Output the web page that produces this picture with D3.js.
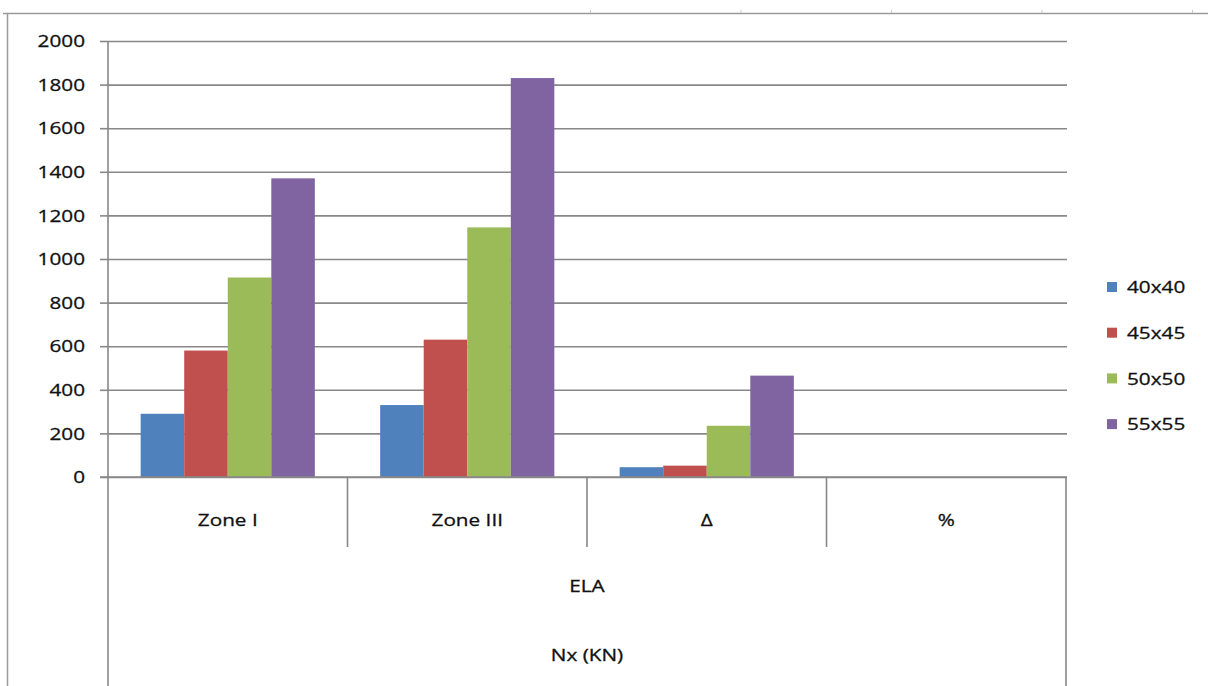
<!DOCTYPE html>
<html><head><meta charset="utf-8">
<script src="https://cdn.jsdelivr.net/npm/d3@7"></script>
<style>
html,body{margin:0;padding:0;background:#fff;}
svg{display:block;}
text{font-family:"Open Sans",sans-serif;fill:#111;stroke:#111;stroke-width:0.3px;}
</style></head>
<body>
<script>
const categories = ["Zone I", "Zone III", "Δ", "%"];
const series = ["40x40", "45x45", "50x50", "55x55"];
const values = {
  "40x40": [290, 330, 45, null],
  "45x45": [580, 630, 52, null],
  "50x50": [915, 1145, 235, null],
  "55x55": [1370, 1830, 465, null]
};
const colors = ["#4F81BD", "#C0504D", "#9BBB59", "#8064A2"];
const yTicks = [0, 200, 400, 600, 800, 1000, 1200, 1400, 1600, 1800, 2000];
const groupLabel = "ELA";
const axisTitle = "Nx (KN)";

(function () {
const W = 1208, H = 686;
const pLeft = 108, pRight = 1066, pTop = 41, pBottom = 477;
const FS = 17, SX = 1.22;
const grid = "#888888";

const svg = d3.select("body").append("svg").attr("width", W).attr("height", H);

// outer frame (partial, as cropped)
svg.append("line").attr("x1", 3).attr("x2", W).attr("y1", 13.5).attr("y2", 13.5).attr("stroke", "#9a9a9a").attr("stroke-width", 1.5);
svg.append("line").attr("x1", 7.5).attr("x2", 7.5).attr("y1", 13).attr("y2", H).attr("stroke", "#9a9a9a").attr("stroke-width", 1.5);
d3.range(5).forEach(i => {
  const x = 590.5 + i * 150.5;
  svg.append("line").attr("x1", x).attr("x2", x).attr("y1", 10).attr("y2", 13).attr("stroke", "#c8c8c8").attr("stroke-width", 1);
});

const y = d3.scaleLinear().domain([0, 2000]).range([pBottom, pTop]);
const x0 = d3.scaleBand().domain(categories).range([pLeft, pRight]).padding(0);
const x1 = d3.scaleBand().domain(series).range([0, x0.bandwidth()]).paddingInner(0).paddingOuter(0.75);

function stretchedText(g, x, yy, str, anchor) {
  return g.append("text")
    .attr("transform", `translate(${x},${yy}) scale(${SX},1)`)
    .attr("text-anchor", anchor)
    .attr("dominant-baseline", "central")
    .attr("font-size", FS)
    .text(str);
}

// gridlines
const gGrid = svg.append("g").attr("transform", `translate(${pLeft},0)`)
  .call(d3.axisLeft(y).tickValues(yTicks).tickSize(-(pRight - pLeft + 1)).tickFormat(""));
gGrid.select(".domain").remove();
gGrid.selectAll("line").attr("stroke", grid).attr("stroke-width", 1.6);

// y axis with tick marks
const gY = svg.append("g").attr("transform", `translate(${pLeft},0)`)
  .call(d3.axisLeft(y).tickValues(yTicks).tickSize(8).tickFormat(""));
gY.select(".domain").attr("stroke", grid).attr("stroke-width", 1.6).attr("d", `M0,${pTop}V${pBottom}`);
gY.selectAll("line").attr("stroke", grid).attr("stroke-width", 1.6);
const gYL = svg.append("g");
yTicks.forEach(t => stretchedText(gYL, 85, y(t), String(t), "end"));

// bars
const gBars = svg.append("g");
categories.forEach((c, ci) => {
  series.forEach((s, si) => {
    const v = values[s][ci];
    if (v == null) return;
    gBars.append("rect")
      .attr("x", x0(c) + x1(s))
      .attr("y", y(v))
      .attr("width", x1.bandwidth())
      .attr("height", y(0) - y(v))
      .attr("fill", colors[si]);
  });
});

// baseline
svg.append("line").attr("x1", pLeft - 8).attr("x2", pRight + 1).attr("y1", y(0)).attr("y2", y(0)).attr("stroke", grid).attr("stroke-width", 1.6);

// multi-level category axis
const gX = svg.append("g");
categories.forEach((c, i) => {
  const xs = x0(c);
  const isEdge = i === 0;
  gX.append("line").attr("x1", xs).attr("x2", xs).attr("y1", pBottom).attr("y2", isEdge ? H : 547).attr("stroke", grid).attr("stroke-width", 1.6);
  stretchedText(gX, xs + x0.bandwidth() / 2, 520, c, "middle");
});
gX.append("line").attr("x1", pRight).attr("x2", pRight).attr("y1", pBottom).attr("y2", H).attr("stroke", grid).attr("stroke-width", 1.6);
stretchedText(gX, (pLeft + pRight) / 2, 586, groupLabel, "middle");
stretchedText(gX, (pLeft + pRight) / 2, 655, axisTitle, "middle");

// legend
const gL = svg.append("g");
series.forEach((s, i) => {
  const cy = 287 + i * 45.7;
  gL.append("rect").attr("x", 1107).attr("y", cy - 5).attr("width", 10).attr("height", 10).attr("fill", colors[i]);
  stretchedText(gL, 1127, cy, s, "start");
});
})();
</script>
</body></html>
